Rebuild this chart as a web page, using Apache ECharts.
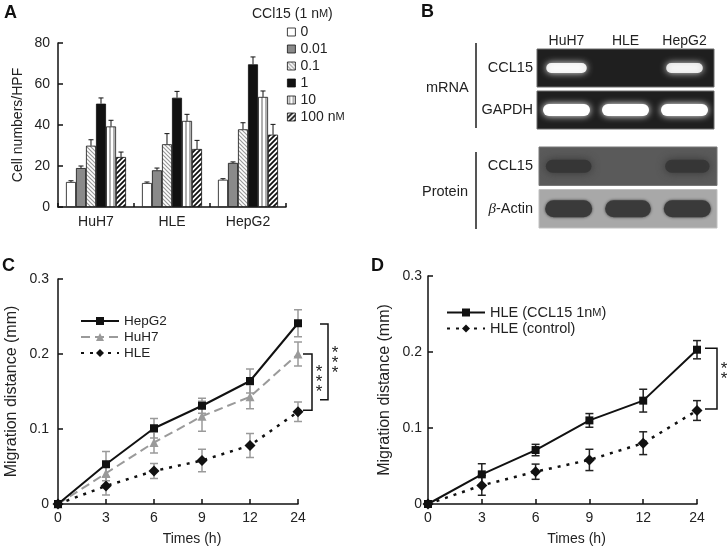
<!DOCTYPE html>
<html><head><meta charset="utf-8">
<script src="https://cdn.jsdelivr.net/npm/echarts@6/dist/echarts.min.js"></script>
<style>html,body{margin:0;padding:0;background:#fff}#c{width:727px;height:549px}</style>
</head><body><div id="c"></div>
<script>
// ---------- Panel A data ----------
const cellLines = ['HuH7', 'HLE', 'HepG2'];
const concNames = ['0', '0.01', '0.1', '1', '10', '100 nM'];
const conc0 = [12.2, 11.7, 13.3];
const conc001 = [19.0, 17.9, 21.5];
const conc01 = [29.9, 30.6, 37.9];
const conc1 = [50.4, 53.3, 69.6];
const conc10 = [39.3, 42.0, 53.7];
const conc100 = [24.4, 28.3, 35.3];
const err0 = [0.6, 0.5, 0.5];
const err001 = [1.0, 1.1, 0.5];
const err01 = [2.9, 5.2, 3.2];
const err1 = [2.8, 3.1, 3.6];
const err10 = [3.0, 3.2, 2.9];
const err100 = [2.4, 4.2, 5.0];
const yTicksA = [0, 20, 40, 60, 80];

// ---------- Panel B data ----------
const lanes = ['HuH7', 'HLE', 'HepG2'];
const mrnaRows = ['CCL15', 'GAPDH'];
const proteinRows = ['CCL15', 'β-Actin'];
const mrnaCCL15 = [0.75, 0, 0.6];
const mrnaGAPDH = [1, 1, 1];
const protCCL15 = [0.95, 0, 0.9];
const protActin = [1, 0.95, 1];

// ---------- Panel C/D data ----------
const times = ['0', '3', '6', '9', '12', '24'];
const hepG2 = [0, 0.053, 0.101, 0.131, 0.164, 0.241];
const hepG2Err = [0, 0.017, 0.013, 0.010, 0.016, 0.018];
const huH7 = [0, 0.041, 0.082, 0.117, 0.143, 0.200];
const huH7Err = [0, 0.010, 0.014, 0.020, 0.016, 0.016];
const hle = [0, 0.024, 0.044, 0.058, 0.078, 0.123];
const hleErr = [0, 0.012, 0.010, 0.015, 0.016, 0.013];
const hleCCL15 = [0, 0.039, 0.071, 0.110, 0.136, 0.203];
const hleCCL15Err = [0, 0.014, 0.0075, 0.009, 0.015, 0.012];
const hleCtrl = [0, 0.0245, 0.0425, 0.058, 0.080, 0.123];
const hleCtrlErr = [0, 0.013, 0.010, 0.014, 0.015, 0.013];
const sigCTop = [0.200, 0.240];
const sigCBottom = [0.125, 0.139];
const sigCLabel = ['***', '***'];
const sigDTop = [0.205];
const sigDBottom = [0.125];
const sigDLabel = ['**'];

const FONT = '"Liberation Sans", Arial, Helvetica, sans-serif';

function pattern(kind) {
  const s = kind === 'dd' ? 5 : 4;
  const c = document.createElement('canvas');
  c.width = s; c.height = s;
  const g = c.getContext('2d');
  g.fillStyle = '#fff'; g.fillRect(0, 0, s, s);
  if (kind === 'ld') {
    g.strokeStyle = '#9a9a9a'; g.lineWidth = 1.2;
    g.beginPath(); g.moveTo(0, 0); g.lineTo(s, s); g.moveTo(-1, s - 1); g.lineTo(1, s + 1); g.moveTo(s - 1, -1); g.lineTo(s + 1, 1); g.stroke();
  } else if (kind === 'v') {
    g.fillStyle = '#b0b0b0'; g.fillRect(1, 0, 2, s);
  } else {
    g.strokeStyle = '#111'; g.lineWidth = 1.8;
    g.beginPath(); g.moveTo(0, s); g.lineTo(s, 0); g.moveTo(-1, 1); g.lineTo(1, -1); g.moveTo(s - 1, s + 1); g.lineTo(s + 1, s - 1); g.stroke();
  }
  return { image: c, repeat: 'repeat' };
}

const barVals = [conc0, conc001, conc01, conc1, conc10, conc100];
const barErrs = [err0, err001, err01, err1, err10, err100];
const barColors = ['#ffffff', '#8a8a8a', pattern('ld'), '#111111', pattern('v'), pattern('dd')];
const CAT_GAP = 0.21;

const LBL = { color: '#222', fontSize: 14, fontFamily: FONT };
function lbl(size, extra) { return Object.assign({}, LBL, { fontSize: size }, extra || {}); }
function axLine() { return { show: true, onZero: false, lineStyle: { color: '#111', width: 1.5 } }; }
function axTick(extra) { return Object.assign({ show: true, inside: true, length: 5, lineStyle: { color: '#111', width: 1.5 } }, extra || {}); }

const series = [];
barVals.forEach((vals, i) => {
  series.push({
    type: 'bar', name: concNames[i], xAxisIndex: 0, yAxisIndex: 0,
    data: vals, barGap: '0%', barCategoryGap: (CAT_GAP * 100) + '%',
    itemStyle: { color: barColors[i], borderColor: '#111', borderWidth: 0.8 },
    silent: true
  });
});
const errBarData = [];
barVals.forEach((vals, si) => vals.forEach((v, ci) => errBarData.push([ci, si, v, barErrs[si][ci]])));
series.push({
  type: 'custom', xAxisIndex: 0, yAxisIndex: 0, encode: { x: 0, y: 2 }, data: errBarData, z: 5, silent: true,
  renderItem(params, api) {
    const ci = api.value(0), si = api.value(1), v = api.value(2), e = api.value(3);
    const band = api.size([1, 0])[0];
    const bw = band * (1 - CAT_GAP) / 6;
    const cx = api.coord([ci, 0])[0] + (si - 2.5) * bw;
    const y0 = api.coord([ci, v])[1], y1 = api.coord([ci, v + e])[1];
    const st = { stroke: '#111', lineWidth: 1 };
    return { type: 'group', children: [
      { type: 'line', shape: { x1: cx, y1: y0, x2: cx, y2: y1 }, style: st },
      { type: 'line', shape: { x1: cx - 2.5, y1: y1, x2: cx + 2.5, y2: y1 }, style: st }
    ] };
  }
});

// Panel B
const gelStyles = [
  { bg: '#1f1f1f', stroke: '#6a6a6a', band: '#ffffff', shadow: '#ffffff', blur: 7, h: 10 },
  { bg: '#1f1f1f', stroke: '#6a6a6a', band: '#ffffff', shadow: '#ffffff', blur: 7, h: 12 },
  { bg: '#5a5a5a', stroke: '#777777', band: '#363636', shadow: '#363636', blur: 9, h: 13 },
  { bg: '#a8a8a8', stroke: '#c0c0c0', band: '#3a3a3a', shadow: '#3a3a3a', blur: 3, h: 17 }
];
function gelBg(offset) {
  return function (params, api) {
    const cs = params.coordSys;
    const r = api.value(1);
    const cy = api.coord([0, r])[1];
    const h = api.size([0, 1])[1];
    const s = gelStyles[offset + r];
    return { type: 'rect', shape: { x: cs.x, y: cy - h / 2 + 2, width: cs.width, height: h - 4 },
      style: { fill: s.bg, stroke: s.stroke, lineWidth: 1 } };
  };
}
function gelBand(offset) {
  return function (params, api) {
    const lane = api.value(0), r = api.value(1), inten = api.value(2);
    if (!inten) return null;
    const c = api.coord([lane, r]);
    const s = gelStyles[offset + r];
    const w = 47 * (0.45 + 0.55 * inten);
    return { type: 'rect', shape: { x: c[0] - w / 2, y: c[1] - s.h / 2, width: w, height: s.h, r: s.h / 2 },
      style: { fill: s.band, shadowBlur: s.blur, shadowColor: s.shadow, opacity: 0.6 + 0.4 * inten } };
  };
}
const mrnaBandData = [];
[mrnaCCL15, mrnaGAPDH].forEach((row, r) => row.forEach((v, l) => mrnaBandData.push([l, r, v])));
const protBandData = [];
[protCCL15, protActin].forEach((row, r) => row.forEach((v, l) => protBandData.push([l, r, v])));
series.push({ type: 'custom', xAxisIndex: 1, yAxisIndex: 1, data: [[0, 0], [0, 1]], renderItem: gelBg(0), silent: true, z: 1 });
series.push({ type: 'custom', xAxisIndex: 1, yAxisIndex: 1, data: mrnaBandData, renderItem: gelBand(0), silent: true, z: 2 });
series.push({ type: 'custom', xAxisIndex: 2, yAxisIndex: 2, data: [[0, 0], [0, 1]], renderItem: gelBg(2), silent: true, z: 1 });
series.push({ type: 'custom', xAxisIndex: 2, yAxisIndex: 2, data: protBandData, renderItem: gelBand(2), silent: true, z: 2 });

// Panel C & D
function errSeries(xi, vals, errs, color) {
  return {
    type: 'custom', xAxisIndex: xi, yAxisIndex: xi, encode: { x: 0, y: 1 }, z: 1, clip: false, silent: true,
    data: vals.map((v, i) => [i, v, errs[i]]),
    renderItem(params, api) {
      const i = api.value(0), v = api.value(1), e = api.value(2);
      if (!e) return null;
      const t = api.coord([i, v + e]), b = api.coord([i, v - e]);
      const st = { stroke: color, lineWidth: 1.5 };
      return { type: 'group', children: [
        { type: 'line', shape: { x1: t[0], y1: t[1], x2: b[0], y2: b[1] }, style: st },
        { type: 'line', shape: { x1: t[0] - 4, y1: t[1], x2: t[0] + 4, y2: t[1] }, style: st },
        { type: 'line', shape: { x1: b[0] - 4, y1: b[1], x2: b[0] + 4, y2: b[1] }, style: st }
      ] };
    }
  };
}
function sigSeries(xi, tops, bottoms, labels, offsets) {
  return {
    type: 'custom', xAxisIndex: xi, yAxisIndex: xi, encode: { x: 0, y: 1 }, clip: false, silent: true, z: 3,
    data: tops.map((t, i) => [times.length - 1, t, bottoms[i], i]),
    renderItem(params, api) {
      const i = api.value(3);
      const o = offsets[i];
      const t = api.coord([api.value(0), api.value(1)]);
      const b = api.coord([api.value(0), api.value(2)]);
      const x = t[0] + o.dx;
      const st = { stroke: '#111', lineWidth: 1.5 };
      const n = labels[i].length;
      const stars = [];
      const midY = (t[1] + b[1]) / 2 + o.dy;
      for (let k = 0; k < n; k++) {
        stars.push({ type: 'text', style: { text: '*', x: x + 7, y: midY + (k - (n - 1) / 2) * 10 + 4, fill: '#222',
          font: '17px ' + FONT, align: 'center', verticalAlign: 'middle' } });
      }
      return { type: 'group', children: [
        { type: 'polyline', shape: { points: [[x - o.tick, t[1]], [x, t[1]], [x, b[1]], [x - o.tick, b[1]]] }, style: Object.assign({ fill: null }, st) }
      ].concat(stars) };
    }
  };
}

series.push(errSeries(3, hepG2, hepG2Err, '#9a9a9a'));
series.push(errSeries(3, huH7, huH7Err, '#9a9a9a'));
series.push(errSeries(3, hle, hleErr, '#9a9a9a'));
series.push({ type: 'line', name: 'HepG2', xAxisIndex: 3, yAxisIndex: 3, data: hepG2, z: 3,
  color: '#111', lineStyle: { width: 2, color: '#111' }, symbol: 'rect', symbolSize: 8, itemStyle: { color: '#111' } });
series.push({ type: 'line', name: 'HuH7', xAxisIndex: 3, yAxisIndex: 3, data: huH7, z: 2,
  color: '#9a9a9a', lineStyle: { width: 2, color: '#9a9a9a', type: [9, 5] }, symbol: 'triangle', symbolSize: 9, itemStyle: { color: '#9a9a9a' } });
series.push({ type: 'line', name: 'HLE', xAxisIndex: 3, yAxisIndex: 3, data: hle, z: 3,
  color: '#111', lineStyle: { width: 2.5, color: '#111', type: [3, 6] }, symbol: 'diamond', symbolSize: 11, itemStyle: { color: '#111' } });
series.push(sigSeries(3, sigCTop, sigCBottom, sigCLabel, [{ dx: 14, tick: 9, dy: -4 }, { dx: 30, tick: 8, dy: -3 }]));

series.push(errSeries(4, hleCCL15, hleCCL15Err, '#222'));
series.push(errSeries(4, hleCtrl, hleCtrlErr, '#222'));
series.push({ type: 'line', name: 'HLE (CCL15 1nM)', xAxisIndex: 4, yAxisIndex: 4, data: hleCCL15, z: 3,
  color: '#111', lineStyle: { width: 2, color: '#111' }, symbol: 'rect', symbolSize: 8, itemStyle: { color: '#111' } });
series.push({ type: 'line', name: 'HLE (control)', xAxisIndex: 4, yAxisIndex: 4, data: hleCtrl, z: 3,
  color: '#111', lineStyle: { width: 2.5, color: '#111', type: [3, 6] }, symbol: 'diamond', symbolSize: 11, itemStyle: { color: '#111' } });
series.push(sigSeries(4, sigDTop, sigDBottom, sigDLabel, [{ dx: 20, tick: 12, dy: -8 }]));

const scRich = { sc: { fontSize: 11, fontFamily: FONT, color: '#222' } };

function timeAxis(gi) {
  return { gridIndex: gi, type: 'category', data: times, boundaryGap: false, name: 'Times (h)', nameLocation: 'middle', nameGap: 28,
    axisLine: axLine(), axisTick: axTick({ alignWithLabel: true, interval: 0 }), splitLine: { show: false },
    axisLabel: lbl(14, { margin: 7, interval: 0 }),
    nameTextStyle: lbl(14, { padding: [0, 0, 0, 28] }) };
}
function migAxis(gi, gap, margin) {
  return { gridIndex: gi, type: 'value', min: 0, max: 0.3, interval: 0.1, name: 'Migration distance (mm)', nameLocation: 'middle', nameGap: gap,
    axisLine: axLine(), axisTick: axTick(), splitLine: { show: false },
    axisLabel: lbl(14, { margin: margin }), nameTextStyle: lbl(16) };
}

const option = {
  animation: false,
  backgroundColor: '#fff',
  textStyle: { fontFamily: FONT },
  grid: [
    { left: 58, top: 43, width: 228, height: 164 },
    { left: 537, top: 47, width: 177, height: 84 },
    { left: 539, top: 145, width: 178, height: 85 },
    { left: 58, top: 279, width: 240, height: 225 },
    { left: 428, top: 276, width: 269, height: 228 }
  ],
  xAxis: [
    { gridIndex: 0, type: 'category', data: cellLines, axisLine: axLine(), axisTick: axTick({ length: 4 }), splitLine: { show: false },
      axisLabel: lbl(14, { margin: 8 }) },
    { gridIndex: 1, type: 'category', data: lanes, position: 'top', axisLine: { show: false }, axisTick: { show: false },
      axisLabel: lbl(14, { margin: -1 }) },
    { gridIndex: 2, type: 'category', data: lanes, show: false },
    timeAxis(3),
    timeAxis(4)
  ],
  yAxis: [
    { gridIndex: 0, type: 'value', min: yTicksA[0], max: yTicksA[yTicksA.length - 1], interval: 20,
      name: 'Cell numbers/HPF', nameLocation: 'middle', nameGap: 33,
      axisLine: axLine(), axisTick: axTick(), splitLine: { show: false },
      axisLabel: lbl(14, { margin: 8 }), nameTextStyle: lbl(14) },
    { gridIndex: 1, type: 'category', data: mrnaRows, inverse: true, axisLine: { show: false }, axisTick: { show: false },
      axisLabel: lbl(14.5, { margin: 4 }) },
    { gridIndex: 2, type: 'category', data: proteinRows, inverse: true, axisLine: { show: false }, axisTick: { show: false },
      axisLabel: lbl(14.5, { margin: 6,
        formatter: v => v.startsWith('β') ? '{i|β}' + v.slice(1) : v,
        rich: { i: { fontStyle: 'italic', fontFamily: '"Liberation Serif", serif', fontSize: 15, color: '#222' } } }) },
    migAxis(3, 38, 9),
    migAxis(4, 35, 6)
  ],
  legend: [
    { data: concNames, left: 282, top: 20, orient: 'vertical', icon: 'rect', itemWidth: 8, itemHeight: 8, itemGap: 3,
      selectedMode: false, itemStyle: { borderColor: '#111', borderWidth: 0.8 },
      textStyle: { fontSize: 14, fontFamily: FONT, color: '#222', lineHeight: 14, rich: scRich },
      formatter: n => n.endsWith('nM') ? n.replace('nM', 'n{sc|M}') : n },
    { data: ['HepG2', 'HuH7', 'HLE'], left: 75, top: 309, orient: 'vertical', itemWidth: 38, itemHeight: 10, itemGap: 2,
      selectedMode: false, textStyle: { fontSize: 13.5, fontFamily: FONT, color: '#222', lineHeight: 12 } },
    { data: ['HLE (CCL15 1nM)', 'HLE (control)'], left: 441, top: 300, orient: 'vertical', itemWidth: 38, itemHeight: 10, itemGap: 1,
      selectedMode: false, textStyle: { fontSize: 14.5, fontFamily: FONT, color: '#222', lineHeight: 11, rich: scRich },
      formatter: n => n.endsWith('nM)') ? n.replace('nM)', 'n{sc|M})') : n }
  ],
  graphic: [
    { type: 'text', left: 4, top: 4, style: { text: 'A', font: 'bold 18px ' + FONT, fill: '#111' } },
    { type: 'text', left: 421, top: 3, style: { text: 'B', font: 'bold 18px ' + FONT, fill: '#111' } },
    { type: 'text', left: 2, top: 257, style: { text: 'C', font: 'bold 18px ' + FONT, fill: '#111' } },
    { type: 'text', left: 371, top: 257, style: { text: 'D', font: 'bold 18px ' + FONT, fill: '#111' } },
    { type: 'text', left: 252, top: 7, style: { text: 'CCl15 (1 n{sc|M})', font: '14px ' + FONT, fill: '#222', rich: { sc: { fontSize: 11, fontFamily: FONT, fill: '#222' } } } },
    { type: 'text', left: 426, top: 80, style: { text: 'mRNA', font: '14.5px ' + FONT, fill: '#222' } },
    { type: 'text', left: 422, top: 184, style: { text: 'Protein', font: '14.5px ' + FONT, fill: '#222' } },
    { type: 'line', shape: { x1: 476, y1: 43, x2: 476, y2: 128 }, style: { stroke: '#555', lineWidth: 2 } },
    { type: 'line', shape: { x1: 476, y1: 152, x2: 476, y2: 229 }, style: { stroke: '#555', lineWidth: 2 } }
  ],
  series
};
const chart = echarts.init(document.getElementById('c'), null, { renderer: 'canvas' });
chart.setOption(option);
</script></body></html>
